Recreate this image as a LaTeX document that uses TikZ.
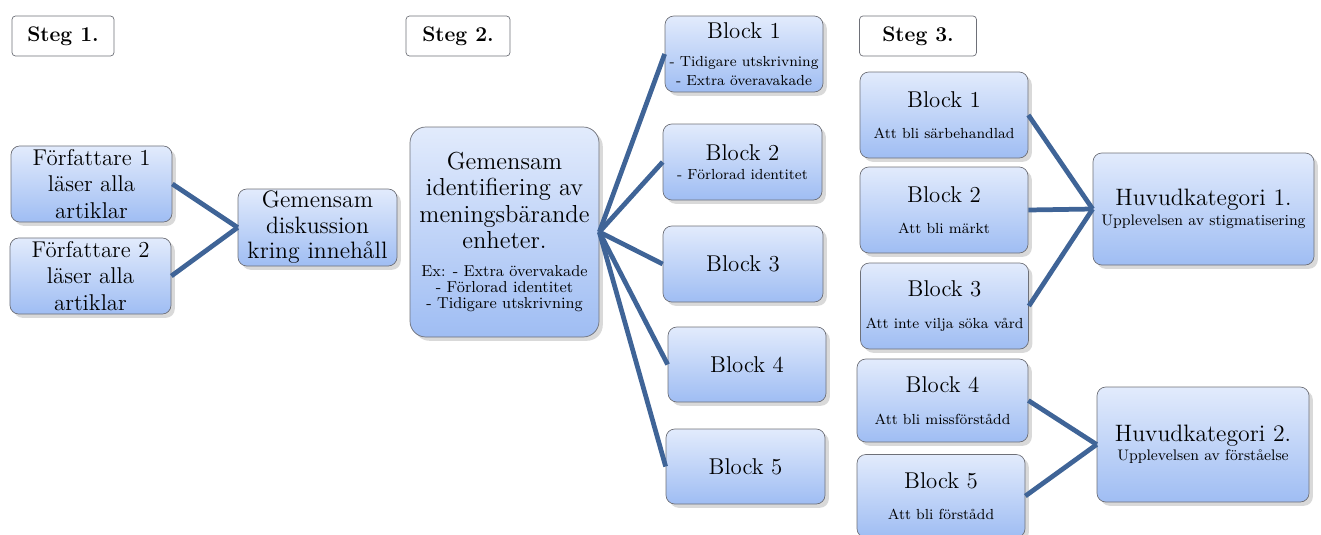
\documentclass[tikz,border=0pt]{standalone}
\usepackage{fontspec}
\usepackage{xcolor}
\usepackage{tikz}
\usetikzlibrary{shadows}
\usetikzlibrary{positioning}

\definecolor{boxtop}{HTML}{E2EBFC}
\definecolor{boxbot}{HTML}{9FBDF3}
\definecolor{boxline}{HTML}{6E7078}
\definecolor{linkblue}{HTML}{3F6497}

\newcommand{\storfont}{\fontsize{13}{15}\selectfont}
\newcommand{\litenfont}{\fontsize{8.3}{10}\selectfont}
\newcommand{\exfont}{\fontsize{9}{10.5}\selectfont}

\begin{document}
\begin{tikzpicture}[
  box/.style={draw=boxline,rounded corners=5pt,top color=boxtop,bottom color=boxbot,
    drop shadow={opacity=0.3},
    align=center,inner sep=2pt,minimum width=3.2cm,minimum height=1.52cm,font=\storfont},
  steg/.style={draw=boxline,rounded corners=2pt,fill=white,minimum height=0.8cm,
    font=\fontsize{12}{14}\selectfont\bfseries},
  link/.style={line width=2.7pt,draw=linkblue}
]
\useasboundingbox (0,0) rectangle (26.42,-10.68);
% Steg
\node[steg,minimum width=2.04cm] (s1) at (1.26,-0.72) {Steg 1.};
\node[steg,minimum width=2.08cm] (s2) at (9.16,-0.72) {Steg 2.};
\node[steg,minimum width=2.34cm] (s3) at (18.36,-0.72) {Steg 3.};
% Steg 1
\node[box,minimum width=3.22cm] (fa1) at (1.83,-3.68) {Författare 1\\läser alla\\artiklar};
\node[box,minimum width=3.22cm] (fa2) at (1.81,-5.52) {Författare 2\\läser alla\\artiklar};
\node[box,minimum width=3.18cm,minimum height=1.54cm,inner sep=1pt,font=\fontsize{13.5}{14.5}\selectfont] (disk) at (6.35,-4.55) {Gemensam\\diskussion\\kring innehåll};
% Steg 2
\node[box,minimum width=3.78cm,minimum height=4.2cm,rounded corners=9pt,font=\fontsize{14}{15}\selectfont] (ident) at (10.09,-4.64)
  {Gemensam\\identifiering av\\meningsbärande\\enheter.\\[1pt]
   \exfont Ex: - Extra övervakade\\[-6pt]\exfont - Förlorad identitet\\[-6pt]\exfont - Tidigare utskrivning};
\node[box,minimum width=3.16cm] (b1) at (14.88,-1.08) {Block 1\\[1pt]\litenfont - Tidigare utskrivning\\[-4.5pt]\litenfont - Extra överavakade};
\node[box,minimum width=3.18cm] (b2) at (14.85,-3.24) {Block 2\\[-4pt]\litenfont - Förlorad identitet};
\node[box,minimum width=3.2cm] (b3) at (14.86,-5.28) {Block 3};
\node[box,minimum width=3.16cm,minimum height=1.5cm] (b4) at (14.94,-7.29) {Block 4};
\node[box,minimum width=3.18cm,minimum height=1.5cm] (b5) at (14.91,-9.33) {Block 5};
% Steg 3
\node[box,minimum width=3.36cm,minimum height=1.72cm] (r1) at (18.88,-2.30) {Block 1\\[3pt]\litenfont Att bli särbehandlad};
\node[box,minimum width=3.36cm,minimum height=1.72cm] (r2) at (18.88,-4.20) {Block 2\\[3pt]\litenfont Att bli märkt};
\node[box,minimum width=3.36cm,minimum height=1.72cm] (r3) at (18.89,-6.12) {Block 3\\[3pt]\litenfont Att inte vilja söka vård};
\node[box,minimum width=3.42cm,minimum height=1.66cm] (r4) at (18.85,-8.01) {Block 4\\[3pt]\litenfont Att bli missförstådd};
\node[box,minimum width=3.36cm,minimum height=1.66cm] (r5) at (18.82,-9.92) {Block 5\\[3pt]\litenfont Att bli förstådd};
\node[box,minimum width=4.42cm,minimum height=2.24cm,font=\fontsize{13.5}{14}\selectfont] (h1) at (24.07,-4.18)
  {Huvudkategori 1.\\[-3pt]\fontsize{8.7}{10}\selectfont Upplevelsen av stigmatisering};
\node[box,minimum width=4.24cm,minimum height=2.3cm,font=\fontsize{13.5}{14}\selectfont] (h2) at (24.06,-8.89)
  {Huvudkategori 2.\\[-3pt]\fontsize{8.7}{10}\selectfont Upplevelsen av förståelse};

\draw[link] (fa1.east) -- (disk.west); \draw[link] (fa2.east) -- (disk.west);
\draw[link] (ident.east) -- (b1.west); \draw[link] (ident.east) -- (b2.west);
\draw[link] (ident.east) -- (b3.west); \draw[link] (ident.east) -- (b4.west);
\draw[link] (ident.east) -- (b5.west);
\draw[link] (r1.east) -- (h1.west); \draw[link] (r2.east) -- (h1.west);
\draw[link] (r3.east) -- (h1.west);
\draw[link] (r4.east) -- (h2.west); \draw[link] (r5.east) -- (h2.west);
\end{tikzpicture}
\end{document}
